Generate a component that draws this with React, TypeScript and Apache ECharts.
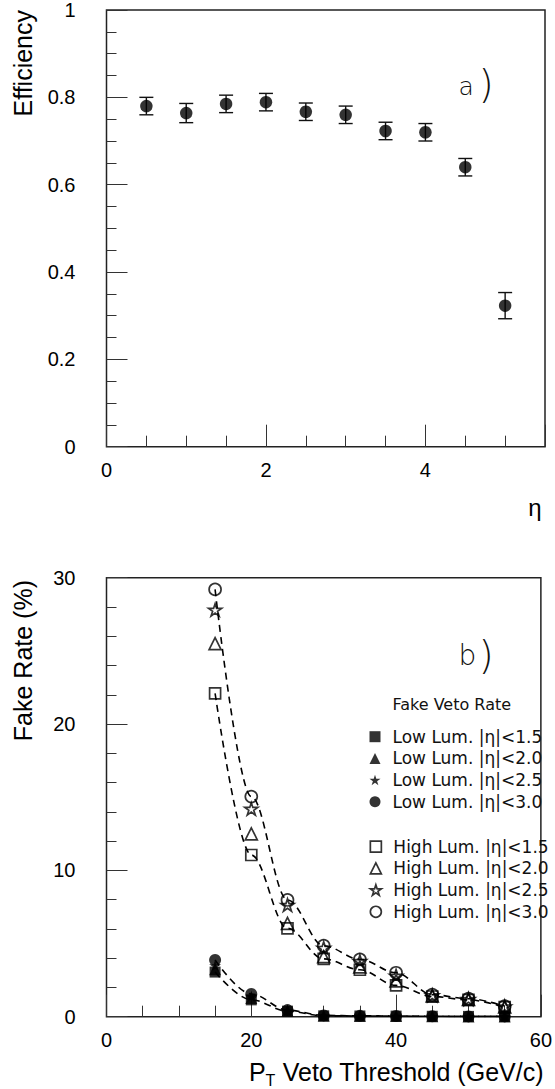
import React, { useEffect, useRef } from "react";
import * as echarts from "echarts";

// (a) efficiency versus pseudorapidity
const etaBins = [0.5, 1, 1.5, 2, 2.5, 3, 3.5, 4, 4.5, 5];
const efficiency = [0.78, 0.764, 0.785, 0.789, 0.767, 0.76, 0.723, 0.72, 0.64, 0.323];
const efficiencyErr = [0.02, 0.022, 0.02, 0.02, 0.02, 0.02, 0.02, 0.02, 0.02, 0.03];

// (b) fake veto rate (%) versus PT veto threshold (GeV/c)
const ptThresholds = [15, 20, 25, 30, 35, 40, 45, 50, 55];
const lowLumEta15 = [3.05, 1.15, 0.38, 0.06, 0.05, 0.04, 0.03, 0.02, 0.02];
const lowLumEta20 = [3.25, 1.28, 0.4, 0.07, 0.05, 0.04, 0.03, 0.02, 0.02];
const lowLumEta25 = [3.5, 1.4, 0.42, 0.08, 0.06, 0.05, 0.03, 0.02, 0.02];
const lowLumEta30 = [3.88, 1.55, 0.45, 0.09, 0.06, 0.05, 0.03, 0.02, 0.02];
const highLumEta15 = [22.1, 11.05, 6.04, 3.95, 3.21, 2.14, 1.38, 1.15, 0.65];
const highLumEta20 = [25.5, 12.5, 6.38, 4.1, 3.4, 2.45, 1.42, 1.18, 0.67];
const highLumEta25 = [27.8, 14.2, 7.63, 4.7, 3.8, 2.8, 1.46, 1.21, 0.7];
const highLumEta30 = [29.2, 15.04, 7.98, 4.85, 3.92, 3.0, 1.5, 1.23, 0.72];

const lowNames = ["Low Lum. |η|<1.5", "Low Lum. |η|<2.0", "Low Lum. |η|<2.5", "Low Lum. |η|<3.0"];
const highNames = ["High Lum. |η|<1.5", "High Lum. |η|<2.0", "High Lum. |η|<2.5", "High Lum. |η|<3.0"];

const STAR =
  "path://M50,0L61.17,34.63L97.55,34.55L68.07,55.87L79.39,90.45L50,69L20.61,90.45L31.93,55.87L2.45,34.55L38.83,34.63Z";

const SANS = "'Liberation Sans', Arial, Helvetica, sans-serif";
const THIN = "'DejaVu Sans', sans-serif";

const pairs = (ys: number[]) => ptThresholds.map((x, i) => [x, ys[i]]);

export default function App() {
  const ref = useRef<HTMLDivElement>(null);

  useEffect(() => {
    if (!ref.current) return;
    const chart = echarts.init(ref.current, null, { renderer: "svg" });

    const tickStyle = { color: "#333", width: 1 };
    const labelStyle = { color: "#000", fontFamily: SANS, fontSize: 20 };

    const filled = (name: string, ys: number[], symbol: string, size: number) => ({
      name,
      type: "scatter",
      xAxisIndex: 2,
      yAxisIndex: 1,
      data: pairs(ys),
      symbol,
      symbolSize: size,
      symbolKeepAspect: true,
      itemStyle: { color: "#000", borderWidth: 0 },
      silent: true,
    });
    const open = (name: string, ys: number[], symbol: string, size: number) => ({
      name,
      type: "scatter",
      xAxisIndex: 2,
      yAxisIndex: 1,
      data: pairs(ys),
      symbol,
      symbolSize: size,
      symbolKeepAspect: true,
      itemStyle: { color: "transparent", borderColor: "#000", borderWidth: 1.7 },
      silent: true,
    });
    const fitLine = (name: string, ys: number[]) => ({
      name,
      type: "line",
      xAxisIndex: 2,
      yAxisIndex: 1,
      data: pairs(ys),
      symbol: "none",
      showSymbol: false,
      smooth: 0.35,
      smoothMonotone: "x",
      lineStyle: { color: "#000", width: 1.6, type: [7, 5] },
      silent: true,
    });

    const legendBase = {
      orient: "vertical",
      left: 364.5,
      itemWidth: 11,
      itemHeight: 11,
      itemGap: 4.7,
      selectedMode: false,
      textStyle: {
        fontFamily: THIN,
        fontSize: 17,
        lineHeight: 17,
        color: "#111",
        padding: [0, 0, 0, 7],
      },
    };
    const filledItem = (name: string, icon: string) => ({
      name,
      icon,
      itemStyle: { color: "#000", borderWidth: 0 },
    });
    const openItem = (name: string, icon: string) => ({
      name,
      icon,
      itemStyle: { color: "transparent", borderColor: "#000", borderWidth: 1.7 },
    });

    const vTitle = (text: string, x: number, y: number) => ({
      type: "text",
      x,
      y,
      rotation: Math.PI / 2,
      style: {
        text,
        fill: "#000",
        font: `25px ${SANS}`,
        textAlign: "right",
        textVerticalAlign: "middle",
      },
    });
    const thinText = (text: string, x: number, y: number, size: number, weight: number) => ({
      type: "text",
      x,
      y,
      style: {
        text,
        fill: "#111",
        fontFamily: THIN,
        fontWeight: weight,
        fontSize: size,
        textAlign: "left",
        textVerticalAlign: "middle",
      },
    });

    chart.setOption({
      animation: false,
      textStyle: { fontFamily: SANS },
      grid: [
        { left: 106.5, top: 8, width: 438.5, height: 438.7, show: true, borderColor: "#222", borderWidth: 1.5, backgroundColor: "transparent" },
        { left: 106.5, top: 577.7, width: 438.5, height: 439, show: true, borderColor: "#222", borderWidth: 1.5, backgroundColor: "transparent" },
      ],
      xAxis: [
        {
          // minor ticks every 0.5 in eta
          gridIndex: 0, type: "value", min: 0, max: 5.5, interval: 0.5, position: "bottom",
          axisLine: { show: false }, splitLine: { show: false },
          axisTick: { show: true, inside: true, length: 11, lineStyle: tickStyle },
          axisLabel: { show: false },
        },
        {
          // labelled ticks every 2 in eta
          gridIndex: 0, type: "value", min: 0, max: 5.5, interval: 2, position: "bottom",
          axisLine: { show: false }, splitLine: { show: false },
          axisTick: { show: true, inside: true, length: 22, lineStyle: tickStyle },
          axisLabel: { ...labelStyle, margin: 13, formatter: (v: number) => (v % 2 === 0 ? String(v) : "") },
        },
        {
          gridIndex: 1, type: "value", min: 0, max: 60, interval: 20, position: "bottom",
          axisLine: { show: false }, splitLine: { show: false },
          axisTick: { show: true, inside: true, length: 22, lineStyle: tickStyle },
          minorTick: { show: true, splitNumber: 4, length: 11, lineStyle: tickStyle },
          axisLabel: { ...labelStyle, margin: 13 },
        },
      ],
      yAxis: [
        {
          gridIndex: 0, type: "value", min: 0, max: 1, interval: 0.2,
          axisLine: { show: false }, splitLine: { show: false },
          axisTick: { show: true, inside: true, length: 21, lineStyle: tickStyle },
          minorTick: { show: true, splitNumber: 4, length: 10, lineStyle: tickStyle },
          axisLabel: { ...labelStyle, margin: 31 },
        },
        {
          gridIndex: 1, type: "value", min: 0, max: 30, interval: 10,
          axisLine: { show: false }, splitLine: { show: false },
          axisTick: { show: true, inside: true, length: 21, lineStyle: tickStyle },
          minorTick: { show: true, splitNumber: 5, length: 10, lineStyle: tickStyle },
          axisLabel: { ...labelStyle, margin: 31 },
        },
      ],
      legend: [
        {
          ...legendBase,
          top: 723.2,
          data: [
            filledItem(lowNames[0], "rect"),
            filledItem(lowNames[1], "triangle"),
            filledItem(lowNames[2], STAR),
            filledItem(lowNames[3], "circle"),
          ],
        },
        {
          ...legendBase,
          top: 833.2,
          data: [
            openItem(highNames[0], "rect"),
            openItem(highNames[1], "triangle"),
            openItem(highNames[2], STAR),
            openItem(highNames[3], "circle"),
          ],
        },
      ],
      series: [
        {
          name: "efficiency error",
          type: "custom",
          xAxisIndex: 1,
          yAxisIndex: 0,
          silent: true,
          data: etaBins.map((x, i) => [x, efficiency[i] - efficiencyErr[i], efficiency[i] + efficiencyErr[i]]),
          encode: { x: 0, y: [1, 2] },
          renderItem: (params: any, api: any) => {
            const x = api.value(0);
            const lo = api.coord([x, api.value(1)]);
            const hi = api.coord([x, api.value(2)]);
            const hw = 7;
            const st = { stroke: "#111", lineWidth: 1.4 };
            return {
              type: "group",
              children: [
                { type: "line", shape: { x1: lo[0], y1: lo[1], x2: hi[0], y2: hi[1] }, style: st },
                { type: "line", shape: { x1: lo[0] - hw, y1: lo[1], x2: lo[0] + hw, y2: lo[1] }, style: st },
                { type: "line", shape: { x1: hi[0] - hw, y1: hi[1], x2: hi[0] + hw, y2: hi[1] }, style: st },
              ],
            };
          },
        },
        {
          name: "efficiency",
          type: "scatter",
          xAxisIndex: 1,
          yAxisIndex: 0,
          data: etaBins.map((x, i) => [x, efficiency[i]]),
          symbol: "circle",
          symbolSize: 12.5,
          itemStyle: { color: "#000" },
          silent: true,
        },
        fitLine("fit low 1.5", lowLumEta15),
        fitLine("fit low 3.0", lowLumEta30),
        fitLine("fit high 1.5", highLumEta15),
        fitLine("fit high 3.0", highLumEta30),
        filled(lowNames[0], lowLumEta15, "rect", 11),
        filled(lowNames[1], lowLumEta20, "triangle", 12),
        filled(lowNames[2], lowLumEta25, STAR, 12),
        filled(lowNames[3], lowLumEta30, "circle", 12),
        open(highNames[0], highLumEta15, "rect", 11),
        open(highNames[1], highLumEta20, "triangle", 12),
        open(highNames[2], highLumEta25, STAR, 13),
        open(highNames[3], highLumEta30, "circle", 12),
      ],
      graphic: [
        vTitle("Efficiency", 23, 10),
        vTitle("Fake Rate (%)", 23, 580),
        {
          type: "text",
          x: 535,
          y: 507,
          style: { text: "η", fill: "#000", font: `24px ${SANS}`, textAlign: "center", textVerticalAlign: "middle" },
        },
        {
          type: "text",
          x: 543.5,
          y: 1071.7,
          style: {
            text: "{m|P}{s|T}{m| Veto Threshold (GeV/c)}",
            textAlign: "right",
            textVerticalAlign: "middle",
            rich: {
              m: { fontFamily: SANS, fontSize: 25, lineHeight: 25, fill: "#000", color: "#000", verticalAlign: "middle" },
              s: { fontFamily: SANS, fontSize: 16, lineHeight: 16, padding: [18, 0, 0, 0], fill: "#000", color: "#000", verticalAlign: "middle" },
            },
          },
        },
        thinText("a", 458.5, 86.5, 25, 200),
        thinText(")", 478.5, 84.6, 39, 200),
        thinText("b", 458.5, 655, 28, 200),
        thinText(")", 478.5, 655.5, 39, 200),
        thinText("Fake Veto Rate", 392.5, 704, 16, 400),
      ],
    });

    return () => chart.dispose();
  }, []);

  return <div ref={ref} style={{ position: "absolute", left: 0, top: 0, width: 555, height: 1089 }} />;
}
